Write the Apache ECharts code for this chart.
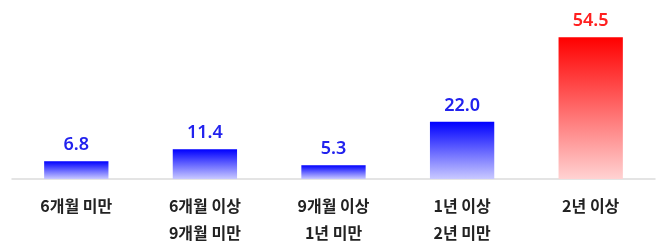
<!DOCTYPE html>
<html><head><meta charset="utf-8">
<script src="https://cdn.jsdelivr.net/npm/echarts@6/dist/echarts.min.js"></script>
<style>html,body{margin:0;padding:0;background:#fff}#c{width:670px;height:247px}</style>
</head><body><div id="c"></div>
<script>
const categories = ['6개월 미만', '6개월 이상\n9개월 미만', '9개월 이상\n1년 미만', '1년 이상\n2년 미만', '2년 이상'];
const values = [6.8, 11.4, 5.3, 22.0, 54.5];
const highlightIndex = 4;

const blueGrad = new echarts.graphic.LinearGradient(0, 0, 0, 1, [{offset: 0, color: '#0000ff'}, {offset: 1, color: '#c9c9ff'}]);
const redGrad = new echarts.graphic.LinearGradient(0, 0, 0, 1, [{offset: 0, color: '#ff0000'}, {offset: 1, color: '#ffd2d2'}]);

const chart = echarts.init(document.getElementById('c'), null, {renderer: 'canvas'});
chart.setOption({
  animation: false,
  grid: {left: 12, right: 15, top: 23, bottom: 68},
  xAxis: {
    type: 'category', data: categories,
    axisTick: {show: false},
    axisLine: {lineStyle: {color: '#dcdcdc', width: 1.5}},
    axisLabel: {color: '#222', fontSize: 16, fontWeight: 'bold', lineHeight: 27, margin: 13, fontFamily: 'Noto Sans CJK KR'}
  },
  yAxis: {type: 'value', min: 0, max: 60, show: false, splitLine: {show: false}},
  series: [{
    type: 'bar', barWidth: '50%',
    data: values.map((v, i) => ({
      value: v,
      itemStyle: {color: i === highlightIndex ? redGrad : blueGrad},
      label: {color: i === highlightIndex ? '#ff2020' : '#2222ee'}
    })),
    label: {show: true, position: 'top', distance: 7, fontSize: 18, fontWeight: 600, fontFamily: 'Noto Sans', formatter: p => p.value.toFixed(1)}
  }]
});
</script></body></html>
